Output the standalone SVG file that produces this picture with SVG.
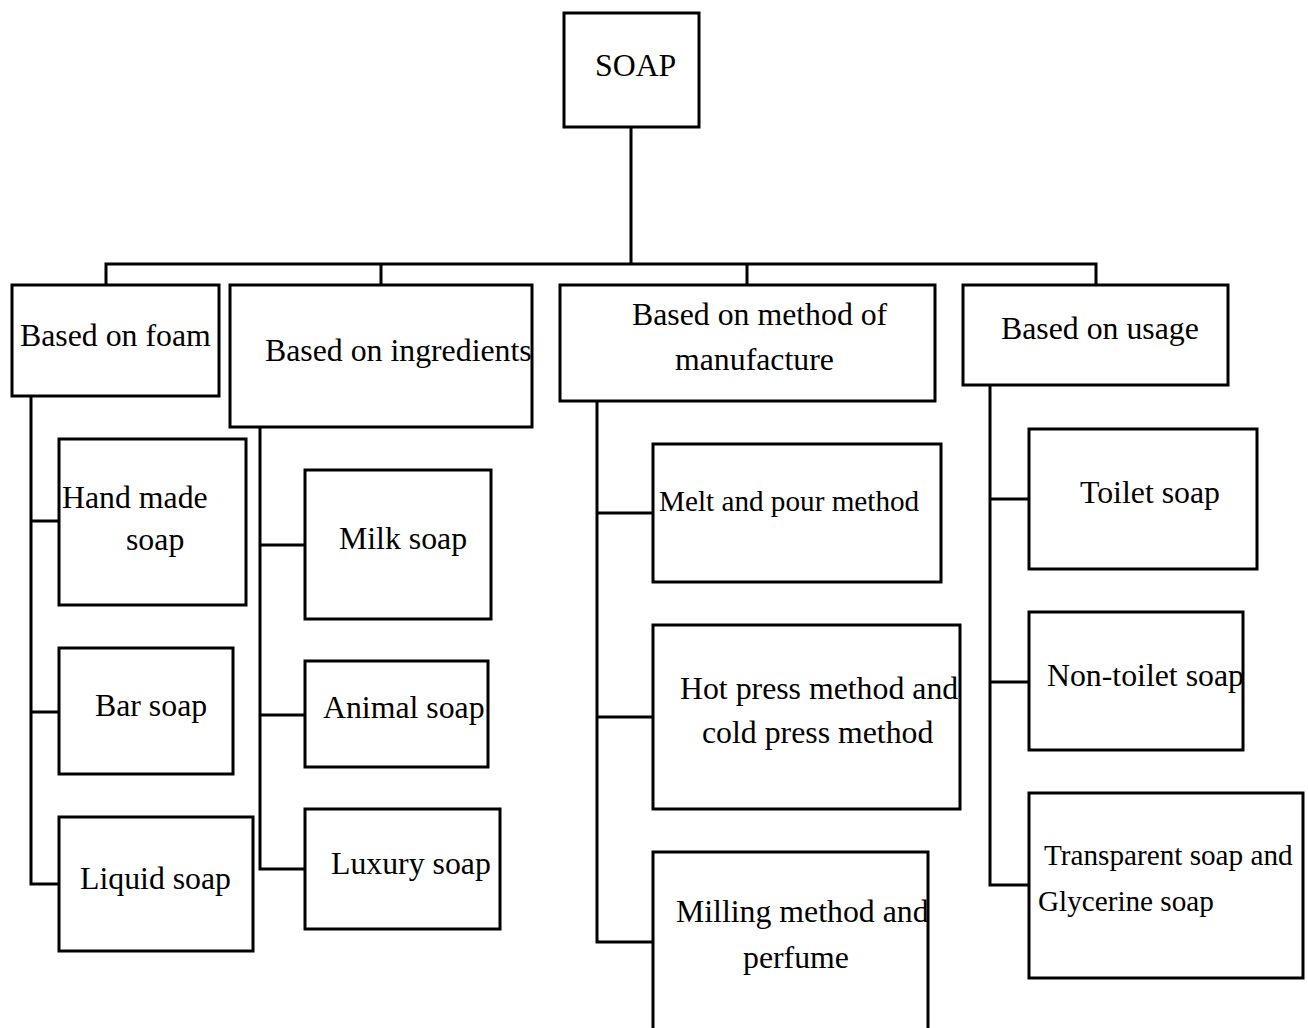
<svg xmlns="http://www.w3.org/2000/svg" width="1308" height="1028" viewBox="0 0 1308 1028">
<style>
.box{fill:#fff;stroke:#000;stroke-width:3}
.ln{fill:none;stroke:#000;stroke-width:3}
text{font-family:"Liberation Serif","Times New Roman",serif;font-size:31.8px;fill:#000}
.s{font-size:29.2px}
</style>
<rect width="1308" height="1028" fill="#fff"/>
<g id="connectors">
<path class="ln" d="M631 127V264M106 285V264H1096V285M381 264V285M747 264V285"/>
<path class="ln" d="M31 396V884H59M31 521H59M31 712H59"/>
<path class="ln" d="M260 427V869H305M260 545H305M260 715H305"/>
<path class="ln" d="M597 401V942H653M597 513H653M597 717H653"/>
<path class="ln" d="M990 385V885H1029M990 499H1029M990 682H1029"/>
</g>
<g id="soap"><rect class="box" x="564" y="13" width="135" height="114"/><text x="595" y="76">SOAP</text></g>
<g id="foam"><rect class="box" x="12" y="285" width="207" height="111"/><text x="20" y="346">Based on foam</text></g>
<g id="ingredients"><rect class="box" x="230" y="285" width="302" height="142"/><text x="265" y="361">Based on ingredients</text></g>
<g id="method"><rect class="box" x="560" y="285" width="375" height="116"/><text x="632" y="325">Based on method of</text><text x="675" y="370">manufacture</text></g>
<g id="usage"><rect class="box" x="963" y="285" width="265" height="100"/><text x="1001" y="339">Based on usage</text></g>
<g id="handmade"><rect class="box" x="59" y="439" width="187" height="166"/><text x="62" y="508">Hand made</text><text x="126" y="550">soap</text></g>
<g id="bar"><rect class="box" x="59" y="648" width="174" height="126"/><text x="95" y="716">Bar soap</text></g>
<g id="liquid"><rect class="box" x="59" y="817" width="194" height="134"/><text x="80" y="889">Liquid soap</text></g>
<g id="milk"><rect class="box" x="305" y="470" width="186" height="149"/><text x="339" y="549">Milk soap</text></g>
<g id="animal"><rect class="box" x="305" y="661" width="183" height="106"/><text x="323" y="718">Animal soap</text></g>
<g id="luxury"><rect class="box" x="305" y="809" width="195" height="120"/><text x="331" y="874">Luxury soap</text></g>
<g id="melt"><rect class="box" x="653" y="444" width="288" height="138"/><text class="s" x="659" y="511">Melt and pour method</text></g>
<g id="hotpress"><rect class="box" x="653" y="625" width="307" height="184"/><text x="680" y="699">Hot press method and</text><text x="702" y="743">cold press method</text></g>
<g id="milling"><rect class="box" x="653" y="852" width="275" height="190"/><text x="676" y="922">Milling method and</text><text x="743" y="968">perfume</text></g>
<g id="toilet"><rect class="box" x="1029" y="429" width="228" height="140"/><text x="1080" y="503">Toilet soap</text></g>
<g id="nontoilet"><rect class="box" x="1029" y="612" width="214" height="138"/><text x="1047" y="686">Non-toilet soap</text></g>
<g id="transparent"><rect class="box" x="1029" y="793" width="274" height="185"/><text class="s" x="1044" y="865">Transparent soap and</text><text class="s" x="1038" y="911">Glycerine soap</text></g>
</svg>
